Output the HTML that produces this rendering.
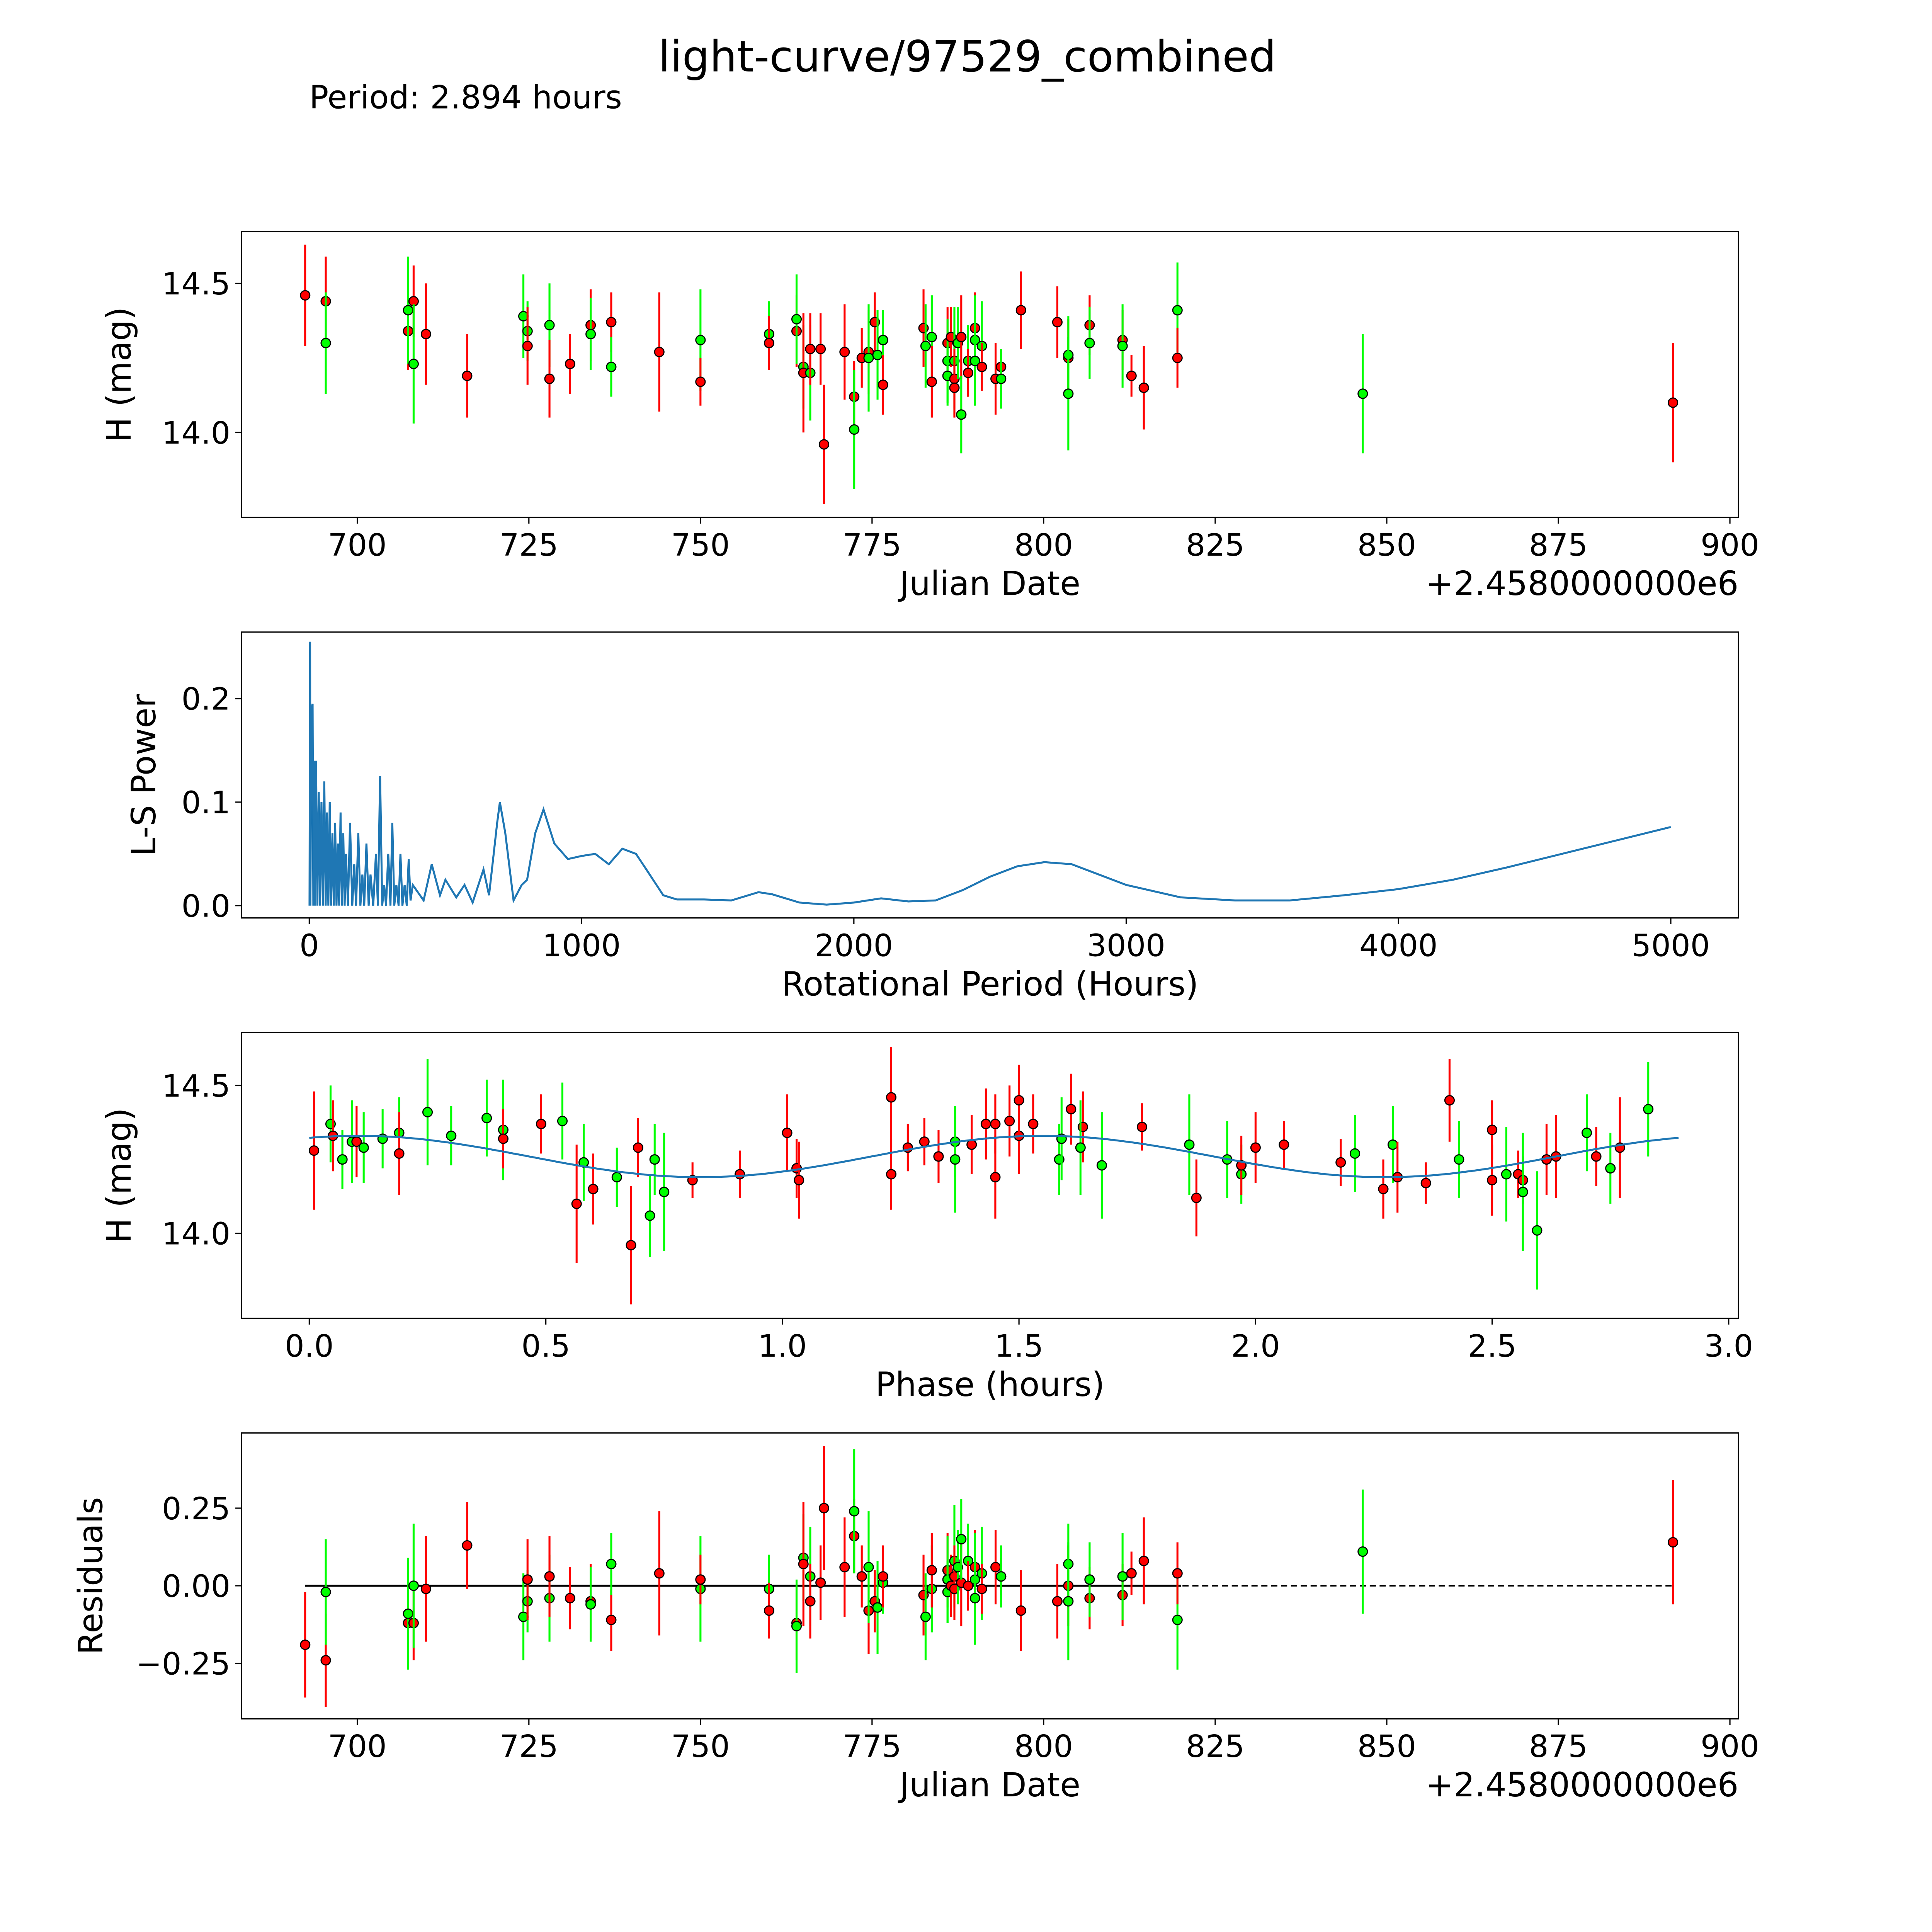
<!DOCTYPE html>
<html><head><meta charset="utf-8">
<style>
html,body{margin:0;padding:0;background:#fff;overflow:hidden;width:100%;height:100%;}
svg{display:block;position:absolute;left:0;top:0;width:100vw;height:100vh;font-family:"DejaVu Sans","Liberation Sans",sans-serif;}
</style></head>
<body>
<svg id="fig" viewBox="0 0 1568 1568" preserveAspectRatio="none" xmlns="http://www.w3.org/2000/svg">
<rect x="0" y="0" width="1568" height="1568" fill="#fff"/>
<text x="785" y="58" font-size="35" text-anchor="middle">light-curve/97529_combined</text>
<text x="251" y="88" font-size="26">Period: 2.894 hours</text>
<g id="g1"></g>
<g id="g2"></g>
<g id="g3"></g>
<g id="g4"></g>
</svg>
<script>
// ---- Light curve data ----
const obsDates = [692.4,695.4,695.4,707.4,707.4,708.2,708.2,710,716,724.2,724.8,724.8,728,728,731,734,734,737,737,744,750,750,760,760,764,764,765,765,766,766,767.5,768,771,772.4,772.4,773.5,774.5,774.5,775.4,775.8,776.6,776.6,782.5,782.8,783.7,783.7,786,786,786,786.5,787,787,787,787.5,788,788,789,789,790,790,790,791,791,793,793.8,793.8,796.7,802,803.6,803.6,803.6,806.7,806.7,811.5,811.5,812.8,814.6,819.5,819.5,846.5,891.7];
const obsMags = [14.46,14.44,14.30,14.34,14.41,14.44,14.23,14.33,14.19,14.39,14.34,14.29,14.36,14.18,14.23,14.36,14.33,14.37,14.22,14.27,14.31,14.17,14.33,14.30,14.34,14.38,14.22,14.20,14.20,14.28,14.28,13.96,14.27,14.12,14.01,14.25,14.27,14.25,14.37,14.26,14.31,14.16,14.35,14.29,14.32,14.17,14.30,14.24,14.19,14.32,14.24,14.18,14.15,14.30,14.32,14.06,14.24,14.20,14.35,14.31,14.24,14.29,14.22,14.18,14.22,14.18,14.41,14.37,14.25,14.26,14.13,14.36,14.30,14.31,14.29,14.19,14.15,14.41,14.25,14.13,14.10];
const obsErrs = [0.17,0.15,0.17,0.13,0.18,0.12,0.2,0.17,0.14,0.14,0.1,0.13,0.14,0.13,0.1,0.12,0.12,0.1,0.1,0.2,0.17,0.08,0.11,0.09,0.12,0.15,0.14,0.2,0.16,0.12,0.12,0.2,0.16,0.12,0.2,0.1,0.14,0.18,0.1,0.15,0.1,0.1,0.13,0.14,0.14,0.12,0.12,0.14,0.1,0.1,0.18,0.1,0.1,0.12,0.14,0.13,0.12,0.08,0.12,0.15,0.15,0.15,0.08,0.12,0.06,0.1,0.13,0.12,0.13,0.13,0.19,0.1,0.12,0.1,0.14,0.07,0.14,0.16,0.1,0.2,0.2];
const obsResid = [-0.19,-0.24,-0.02,-0.12,-0.09,-0.12,0.0,-0.01,0.13,-0.10,-0.05,0.02,-0.04,0.03,-0.04,-0.05,-0.06,-0.11,0.07,0.04,-0.01,0.02,-0.01,-0.08,-0.12,-0.13,0.09,0.07,0.03,-0.05,0.01,0.25,0.06,0.16,0.24,0.03,-0.08,0.06,-0.05,-0.07,0.01,0.03,-0.03,-0.10,-0.01,0.05,0.05,0.02,-0.02,0.0,0.08,0.03,-0.01,0.06,0.01,0.15,0.08,0.0,0.06,0.02,-0.04,0.04,-0.01,0.06,0.03,0.03,-0.08,-0.05,0.0,0.07,-0.05,-0.04,0.02,-0.03,0.03,0.04,0.08,-0.11,0.04,0.11,0.14];
const obsColors = ['r','r','g','r','g','r','g','r','r','g','g','r','g','r','r','r','g','r','g','r','g','r','g','r','r','g','g','r','g','r','r','r','r','r','g','r','r','g','r','g','g','r','r','g','g','r','r','g','g','r','g','r','r','g','r','g','g','r','r','g','g','g','r','r','r','g','r','r','r','g','g','r','g','r','g','r','r','g','r','g','r'];
// ---- Phase-folded data ----
const phaseVals = [0.01,0.045,0.05,0.07,0.09,0.10,0.115,0.155,0.19,0.19,0.25,0.30,0.375,0.41,0.41,0.49,0.535,0.565,0.58,0.60,0.65,0.68,0.695,0.72,0.73,0.75,0.81,0.91,1.01,1.03,1.035,1.23,1.23,1.265,1.30,1.33,1.365,1.365,1.40,1.43,1.45,1.45,1.48,1.50,1.50,1.53,1.585,1.59,1.61,1.635,1.63,1.675,1.76,1.86,1.875,1.94,1.97,1.97,2.0,2.06,2.18,2.21,2.27,2.29,2.30,2.36,2.41,2.43,2.50,2.50,2.53,2.555,2.565,2.565,2.595,2.615,2.635,2.70,2.72,2.75,2.77,2.83];
const phaseMags = [14.28,14.37,14.33,14.25,14.31,14.31,14.29,14.32,14.34,14.27,14.41,14.33,14.39,14.35,14.32,14.37,14.38,14.10,14.24,14.15,14.19,13.96,14.29,14.06,14.25,14.14,14.18,14.20,14.34,14.22,14.18,14.20,14.46,14.29,14.31,14.26,14.31,14.25,14.30,14.37,14.19,14.37,14.38,14.33,14.45,14.37,14.25,14.32,14.42,14.36,14.29,14.23,14.36,14.30,14.12,14.25,14.20,14.23,14.29,14.30,14.24,14.27,14.15,14.30,14.19,14.17,14.45,14.25,14.35,14.18,14.20,14.20,14.18,14.14,14.01,14.25,14.26,14.34,14.26,14.22,14.29,14.42];
const phaseErrs = [0.2,0.13,0.12,0.1,0.14,0.12,0.12,0.1,0.12,0.14,0.18,0.1,0.13,0.17,0.1,0.1,0.13,0.2,0.13,0.12,0.1,0.2,0.1,0.14,0.12,0.2,0.06,0.08,0.13,0.1,0.13,0.12,0.17,0.08,0.08,0.09,0.12,0.18,0.1,0.12,0.14,0.1,0.12,0.13,0.12,0.1,0.12,0.14,0.12,0.12,0.16,0.18,0.08,0.17,0.13,0.13,0.1,0.1,0.12,0.08,0.08,0.13,0.1,0.13,0.12,0.07,0.14,0.13,0.1,0.12,0.16,0.08,0.08,0.2,0.2,0.12,0.14,0.13,0.1,0.12,0.17,0.16];
const phaseColors = ['r','g','r','g','g','r','g','g','g','r','g','g','g','g','r','r','g','r','g','r','g','r','r','g','g','g','r','r','r','r','r','r','r','r','r','r','g','g','r','r','r','r','r','r','r','r','g','g','r','r','g','g','r','g','r','g','g','r','r','r','r','g','r','g','r','r','r','g','r','r','g','r','r','g','g','r','r','g','r','g','r','g'];
// model curve coefficients
const modelMean = 14.26, modelAmp = 0.07, modelPeak = 1.55, foldPeriod = 2.894;
// ---- Periodogram ----
const lsPeriod = [1,3,4,8,12,15,18,21,25,30,35,40,45,50,55,60,65,70,75,80,85,90,95,100,105,110,115,120,125,130,135,142,150,158,165,172,180,188,195,202,210,218,225,235,245,252,260,268,275,282,290,298,305,312,320,328,335,342,350,358,365,372,380,420,450,480,500,540,570,600,640,660,690,700,720,750,780,800,830,860,900,950,1000,1050,1100,1150,1200,1250,1300,1350,1450,1550,1650,1700,1800,1900,2000,2100,2200,2300,2400,2500,2600,2700,2800,2900,3000,3200,3400,3600,3800,4000,4200,4400,4600,4800,5000];
const lsPower = [0,0.255,0,0.19,0.195,0,0.14,0,0.14,0,0.11,0,0.10,0,0.12,0,0.09,0,0.10,0,0.07,0,0.08,0,0.06,0,0.09,0,0.07,0,0.05,0,0.08,0,0.04,0,0.07,0,0.03,0,0.06,0,0.03,0,0.05,0,0.125,0,0.02,0,0.05,0,0.08,0,0.02,0,0.05,0,0.02,0,0.045,0.005,0.02,0.005,0.04,0.01,0.025,0.008,0.02,0.003,0.035,0.01,0.08,0.1,0.07,0.005,0.02,0.025,0.07,0.093,0.06,0.045,0.048,0.05,0.04,0.055,0.05,0.03,0.01,0.006,0.006,0.005,0.013,0.011,0.003,0.001,0.003,0.007,0.004,0.005,0.015,0.028,0.038,0.042,0.04,0.03,0.02,0.008,0.005,0.005,0.01,0.016,0.025,0.037,0.05,0.063,0.076];
const dateTicks = [700,725,750,775,800,825,850,875,900];
const magTicks = [14.0,14.5];
const lsXTicks = [0,1000,2000,3000,4000,5000];
const lsYTicks = [0.0,0.1,0.2];
const phaseTicks = [0.0,0.5,1.0,1.5,2.0,2.5,3.0];
const residTicks = [-0.25,0.0,0.25];

const NS='http://www.w3.org/2000/svg';
function mk(tag,attrs,parent){const e=document.createElementNS(NS,tag);for(const k in attrs)e.setAttribute(k,attrs[k]);parent.appendChild(e);return e;}
function lin(d0,d1,r0,r1){return v=>r0+(v-d0)*(r1-r0)/(d1-d0);}
const COL={r:'#ff0000',g:'#00ff00'};
const L=196,R=1411;

function frame(g,top,bot,xs,ys,xt,yt,xfmt,yfmt,xlabel,ylabel,ylx){
  const f=mk('rect',{x:L,y:top,width:R-L,height:bot-top,fill:'none',stroke:'#000','stroke-width':1},g);
  
  
  xt.forEach(v=>{const x=xs(v);
    const t=mk('line',{x1:x,x2:x,y1:bot,y2:bot+5,stroke:'#000'},g);
    
    
    const tx=mk('text',{x:x,y:bot+31,'font-size':25,'text-anchor':'middle'},g);tx.textContent=xfmt(v);
    
    });
  yt.forEach(v=>{const y=ys(v);
    const t=mk('line',{x1:L-5,x2:L,y1:y,y2:y,stroke:'#000'},g);
    
    
    const tx=mk('text',{x:L-9,y:y+9,'font-size':25,'text-anchor':'end'},g);tx.textContent=yfmt(v);
    
    });
  const xl=mk('text',{x:(L+R)/2,y:bot+63,'font-size':27,'text-anchor':'middle'},g);xl.textContent=xlabel;
  
  
  const cy=(top+bot)/2;
  const yl=mk('text',{x:ylx,y:cy,'font-size':27,'text-anchor':'middle',transform:`rotate(-90 ${ylx} ${cy})`},g);yl.textContent=ylabel;
  
  
}
function offsetLabel(g,bot){const t=mk('text',{x:R,y:bot+63,'font-size':27,'text-anchor':'end'},g);t.textContent='+2.4580000000e6';
  
  }
function errPoint(g,x,y,ylo,yhi,c){
  const l=mk('line',{x1:x,x2:x,y1:ylo,y2:yhi,stroke:COL[c],'stroke-width':1.6},g);
  
  
  const p=mk('circle',{cx:x,cy:y,r:3.8,fill:COL[c],stroke:'#000','stroke-width':0.9},g);
  
  
}
const f2=v=>v.toFixed(1);

// Panel 1
{const g=document.getElementById('g1');const top=188,bot=420;
 const xs=lin(700,900,290,1404), ys=lin(14.5,14.0,230,351);
 frame(g,top,bot,xs,ys,dateTicks,magTicks,v=>String(v),f2,'Julian Date','H (mag)',106);
 offsetLabel(g,bot);
 obsDates.forEach((d,i)=>errPoint(g,xs(d),ys(obsMags[i]),ys(obsMags[i]-obsErrs[i]),ys(obsMags[i]+obsErrs[i]),obsColors[i]));}

// Panel 2
{const g=document.getElementById('g2');const top=513,bot=745;
 const xs=lin(0,5000,251,1356), ys=lin(0,0.2,735,567);
 frame(g,top,bot,xs,ys,lsXTicks,lsYTicks,v=>String(v),f2,'Rotational Period (Hours)','L-S Power',126);
 const pts=lsPeriod.map((p,i)=>xs(p).toFixed(1)+','+ys(lsPower[i]).toFixed(1)).join(' ');
 const pl=mk('polyline',{points:pts,fill:'none',stroke:'#1f77b4','stroke-width':1.6},g);
 
 }

// Panel 3
{const g=document.getElementById('g3');const top=838,bot=1070;
 const xs=lin(0,3,251,1403), ys=lin(14.5,14.0,881,1001);
 frame(g,top,bot,xs,ys,phaseTicks,magTicks,f2,f2,'Phase (hours)','H (mag)',106);
 phaseVals.forEach((p,i)=>errPoint(g,xs(p),ys(phaseMags[i]),ys(phaseMags[i]-phaseErrs[i]),ys(phaseMags[i]+phaseErrs[i]),phaseColors[i]));
 let pts=[];for(let k=0;k<=200;k++){const p=foldPeriod*k/200;const m=modelMean+modelAmp*Math.cos(4*Math.PI*(p-modelPeak)/foldPeriod);pts.push(xs(p).toFixed(1)+','+ys(m).toFixed(1));}
 const pl=mk('polyline',{points:pts.join(' '),fill:'none',stroke:'#1f77b4','stroke-width':1.6},g);
 
 }

// Panel 4
{const g=document.getElementById('g4');const top=1163,bot=1395;
 const xs=lin(700,900,290,1404), ys=lin(0,0.25,1287,1224);
 frame(g,top,bot,xs,ys,dateTicks,residTicks,v=>String(v),v=>(v<0?'\u2212':'')+Math.abs(v).toFixed(2),'Julian Date','Residuals',83);
 offsetLabel(g,bot);
 const d0=obsDates[0], d1=obsDates[obsDates.length-1];
 const z1=mk('line',{x1:xs(d0),x2:xs(d1),y1:ys(0),y2:ys(0),stroke:'#000','stroke-width':1.2,'stroke-dasharray':'5,3'},g);
 
 
 const z2=mk('line',{x1:xs(d0),x2:xs(820),y1:ys(0),y2:ys(0),stroke:'#000','stroke-width':1.6},g);
 
 
 obsDates.forEach((d,i)=>errPoint(g,xs(d),ys(obsResid[i]),ys(obsResid[i]-obsErrs[i]),ys(obsResid[i]+obsErrs[i]),obsColors[i]));}
</script>
</body></html>
